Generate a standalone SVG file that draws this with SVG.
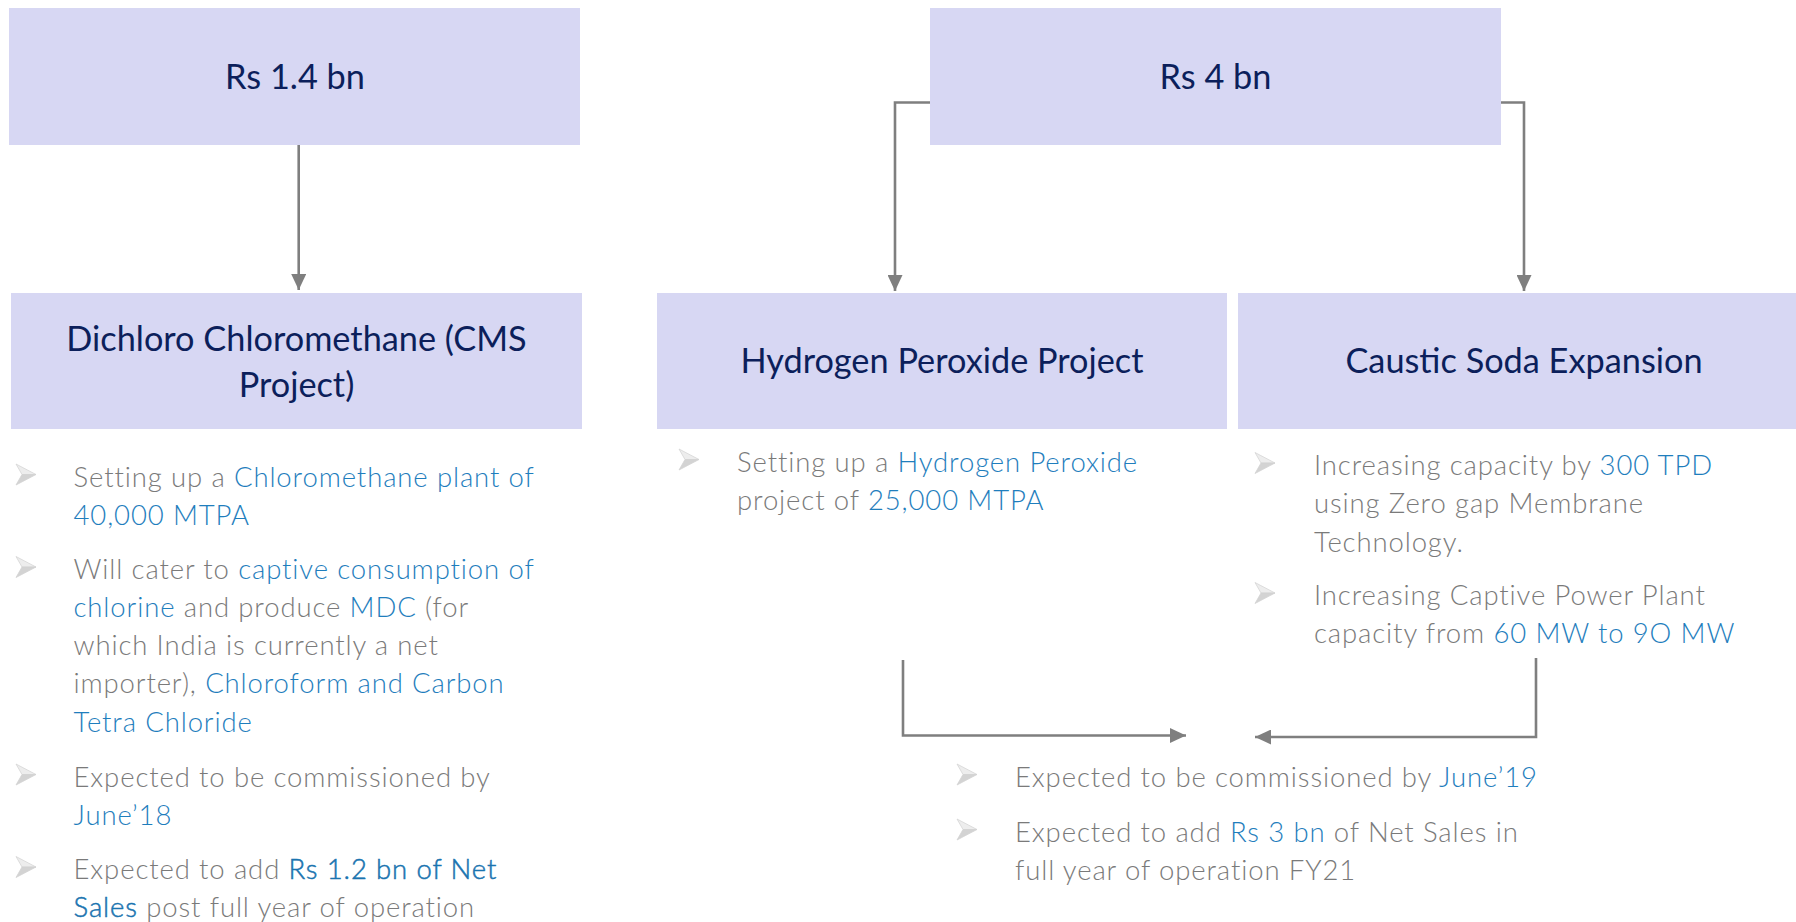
<svg xmlns="http://www.w3.org/2000/svg" xmlns:xlink="http://www.w3.org/1999/xlink" width="1796" height="922" viewBox="0 0 1796 922">
  <style>
    .box { fill: #D7D7F3; }
    .title { font-family: Lato, "Open Sans", "Liberation Sans", sans-serif; font-size: 34.3px; fill: #0C1F5B; text-anchor: middle; }
    .body { font-family: Lato, "Open Sans", "Liberation Sans", sans-serif; font-size: 27.5px; font-weight: 300; letter-spacing: 0.88px; fill: #7A7A7A; }
    .hl { fill: #1F7EBD; }
    .hlb { fill: #1A74B0; stroke: #1A74B0; stroke-width: 0.5px; }
    .conn { fill: none; stroke: #7F7F7F; stroke-width: 2.6px; marker-end: url(#head); }
  </style>
  <defs>
    <marker id="head" viewBox="0 0 16 15" refX="16" refY="7.5" markerWidth="16" markerHeight="15" markerUnits="userSpaceOnUse" orient="auto">
      <path d="M0,0 L16,7.5 L0,15 Z" fill="#7F7F7F"/>
    </marker>
    <!-- 3D arrowhead bullet -->
    <g id="bullet">
      <polygon points="0,0 20,10.5 6,10.5" fill="#EDEDED" stroke="#D6D6D6" stroke-width="0.8"/>
      <polygon points="6,10.5 20,10.5 0,21" fill="#D3D3D3" stroke="#D3D3D3" stroke-width="0.8"/>
    </g>
  </defs>

  <rect width="1796" height="922" fill="#FFFFFF"/>

  <!-- connectors -->
  <g id="connectors">
    <path class="conn" d="M298.7,145 V290"/>
    <path class="conn" d="M930,102.5 H895 V291"/>
    <path class="conn" d="M1501,102.5 H1524 V291"/>
    <path class="conn" d="M903,660 V735.5 H1186"/>
    <path class="conn" d="M1536,658 V737 H1255"/>
  </g>

  <!-- budget nodes -->
  <g id="budget-cms">
    <rect class="box" x="9" y="8" width="571" height="137"/>
    <text class="title" x="295" y="89">Rs 1.4 bn</text>
  </g>
  <g id="budget-main">
    <rect class="box" x="930" y="8" width="571" height="137"/>
    <text class="title" x="1215.5" y="88.5">Rs 4 bn</text>
  </g>

  <!-- project nodes -->
  <g id="project-cms">
    <rect class="box" x="11" y="293" width="571" height="136"/>
    <text class="title" x="296.5" y="350.5">Dichloro Chloromethane (CMS</text>
    <text class="title" x="296.5" y="396.5">Project)</text>
  </g>
  <g id="project-h2o2">
    <rect class="box" x="657" y="293" width="570" height="136"/>
    <text class="title" x="942" y="373">Hydrogen Peroxide Project</text>
  </g>
  <g id="project-caustic">
    <rect class="box" x="1238" y="293" width="570" height="136"/>
    <text class="title" x="1524" y="373">Caustic Soda Expansion</text>
  </g>

  <!-- CMS details -->
  <g id="details-cms">
    <use xlink:href="#bullet" x="16" y="464"/>
    <use xlink:href="#bullet" x="16" y="556.5"/>
    <use xlink:href="#bullet" x="16" y="764"/>
    <use xlink:href="#bullet" x="16" y="856.5"/>
    <text class="body" x="73.5" y="486.7">Setting up a <tspan class="hl">Chloromethane plant of</tspan></text>
    <text class="body hl" x="73.5" y="524.5">40,000 MTPA</text>
    <text class="body" x="73.5" y="579">Will cater to <tspan class="hl">captive consumption of</tspan></text>
    <text class="body" x="73.5" y="617"><tspan class="hl">chlorine</tspan> and produce <tspan class="hl">MDC</tspan> (for</text>
    <text class="body" x="73.5" y="655">which India is currently a net</text>
    <text class="body" x="73.5" y="693">importer), <tspan class="hl">Chloroform and Carbon</tspan></text>
    <text class="body hl" x="73.5" y="731.5">Tetra Chloride</text>
    <text class="body" x="73.5" y="786.7">Expected to be commissioned by</text>
    <text class="body hl" x="73.5" y="825">June’18</text>
    <text class="body" x="73.5" y="879">Expected to add <tspan class="hlb">Rs 1.2 bn of Net</tspan></text>
    <text class="body" x="73.5" y="917"><tspan class="hlb">Sales</tspan> post full year of operation</text>
  </g>

  <!-- Hydrogen peroxide details -->
  <g id="details-h2o2">
    <use xlink:href="#bullet" x="679" y="449"/>
    <text class="body" x="737" y="471.7">Setting up a <tspan class="hl">Hydrogen Peroxide</tspan></text>
    <text class="body" x="737" y="509.5">project of <tspan class="hl">25,000 MTPA</tspan></text>
  </g>

  <!-- Caustic soda details -->
  <g id="details-caustic">
    <use xlink:href="#bullet" x="1255" y="452.5"/>
    <use xlink:href="#bullet" x="1255" y="582.5"/>
    <text class="body" x="1314" y="475">Increasing capacity by <tspan class="hl">300 TPD</tspan></text>
    <text class="body" x="1314" y="513.3">using Zero gap Membrane</text>
    <text class="body" x="1314" y="551.7">Technology.</text>
    <text class="body" x="1314" y="605">Increasing Captive Power Plant</text>
    <text class="body" x="1314" y="643.3">capacity from <tspan class="hl">60 MW to 9O MW</tspan></text>
  </g>

  <!-- combined outcome -->
  <g id="outcome">
    <use xlink:href="#bullet" x="957" y="764"/>
    <use xlink:href="#bullet" x="957" y="819"/>
    <text class="body" x="1015" y="786.7">Expected to be commissioned by <tspan class="hl">June’19</tspan></text>
    <text class="body" x="1015" y="841.7">Expected to add <tspan class="hl">Rs 3 bn</tspan> of Net Sales in</text>
    <text class="body" x="1015" y="880">full year of operation FY21</text>
  </g>
</svg>
